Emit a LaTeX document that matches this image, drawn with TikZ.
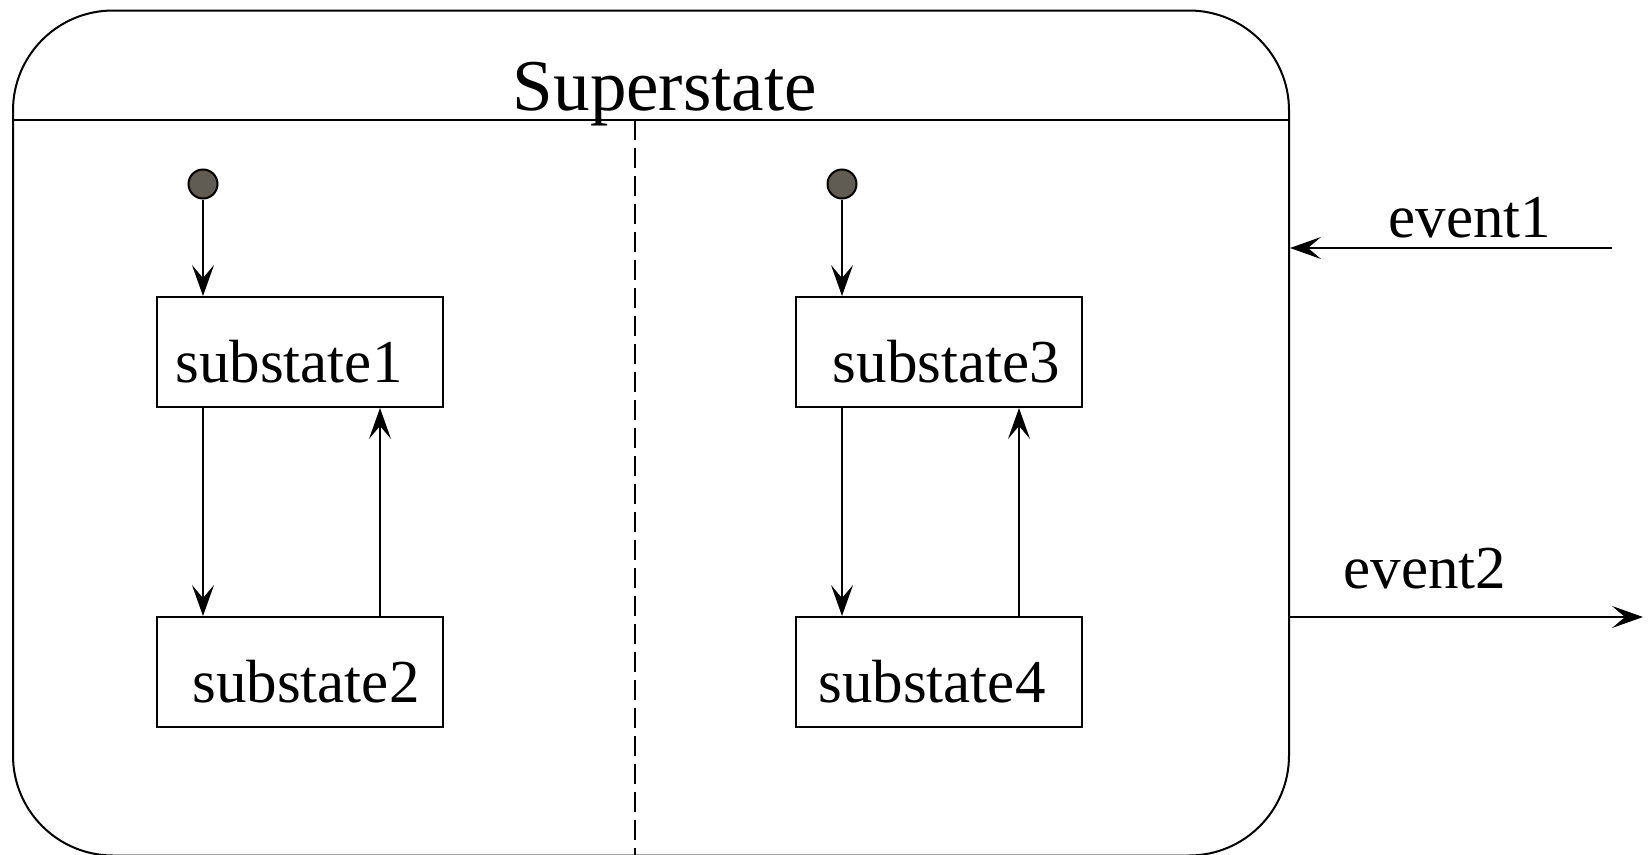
\documentclass[tikz,border=0pt]{standalone}
\usepackage{fontspec}
\setmainfont{Liberation Serif}
\usetikzlibrary{arrows.meta}
\definecolor{dotc}{RGB}{96,91,83}
\begin{document}
\begin{tikzpicture}[x=1pt,y=-1pt,
  lw/.style={line width=2pt},
  arr/.style={line width=2pt,-{Stealth[length=31pt,width=22pt,inset=13pt]}},
  sub/.style={draw,line width=2pt,minimum width=286pt,minimum height=110pt,inner sep=0pt,font=\fontsize{61}{70}\selectfont,text height=60pt,text depth=0pt},
  init/.style={circle,draw,line width=2pt,fill=dotc,minimum size=29pt,inner sep=0pt},
  lbl/.style={font=\fontsize{61}{70}\selectfont,anchor=base,inner sep=0pt}]
\useasboundingbox (0,0) rectangle (1649,854);
\node[draw,line width=2pt,rounded corners=100pt,minimum width=1276pt,minimum height=845pt,inner sep=0pt] (super) at (651,433) {};
\node[lbl,font=\fontsize{73}{80}\selectfont] (title) at (665,110) {Superstate};
\coordinate (sepy) at (0,120);
\draw[lw] (super.west |- sepy) -- (super.east |- sepy);
\coordinate (dashtop) at (635,120);
\draw[lw,dash pattern=on 20pt off 8pt] (dashtop) -- (dashtop |- super.south);
\node[sub] (s1) at (299.5,352) {substate1\hspace*{21pt}};
\node[sub] (s2) at (299.5,672) {\hspace*{13pt}substate2};
\node[sub] (s3) at (939,352) {\hspace*{15pt}substate3};
\node[sub] (s4) at (939,672) {substate4\hspace*{14pt}};
\node[init] (i1) at (203,184) {};
\node[init] (i2) at (842,184) {};
\draw[arr] (i1) -- (i1 |- s1.north);
\draw[arr] ([xshift=-96.5pt]s1.south) -- ([xshift=-96.5pt]s2.north);
\draw[arr] ([xshift=80.5pt]s2.north) -- ([xshift=80.5pt]s1.south);
\draw[arr] (i2) -- (i2 |- s3.north);
\draw[arr] ([xshift=-97pt]s3.south) -- ([xshift=-97pt]s4.north);
\draw[arr] ([xshift=80pt]s4.north) -- ([xshift=80pt]s3.south);
\coordinate (e1) at (1612,248);
\draw[arr] (e1) -- (e1 -| super.east);
\coordinate (e2) at (1643,617);
\draw[arr] (e2 -| super.east) -- (e2);
\node[lbl] (t1) at (1470,237) {event1};
\node[lbl] (t2) at (1425,588) {event2};
\end{tikzpicture}
\end{document}
